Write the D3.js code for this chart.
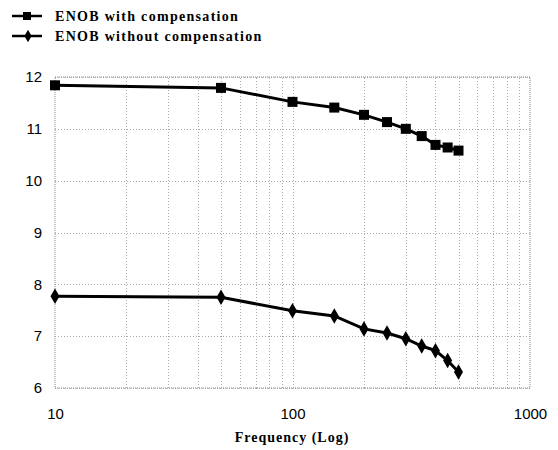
<!DOCTYPE html>
<html>
<head>
<meta charset="utf-8">
<script src="https://cdn.jsdelivr.net/npm/d3@7"></script>
<style>
  body { margin: 0; background: #fff; }
  svg { display: block; }
</style>
</head>
<body>
<script>
var width = 558,
    height = 450,
    margin = {top: 77, right: 28, bottom: 62, left: 55};

// frequencies (x), ENOB values for the two series
var freq = [10, 50, 100, 150, 200, 250, 300, 350, 400, 450, 500];
var enobWith = [11.84, 11.79, 11.52, 11.41, 11.27, 11.13, 11.0, 10.86, 10.69, 10.64, 10.58];
var enobWithout = [7.77, 7.75, 7.49, 7.39, 7.14, 7.06, 6.95, 6.81, 6.72, 6.53, 6.31];
var seriesNames = ["ENOB with compensation", "ENOB without compensation"];
var xTicks = [10, 100, 1000];
var yTicks = [6, 7, 8, 9, 10, 11, 12];

var svg = d3.select("body").append("svg")
    .attr("width", width)
    .attr("height", height);

var x = d3.scaleLog()
    .domain([10, 1000])
    .range([margin.left, width - margin.right]);

var y = d3.scaleLinear()
    .domain([6, 12])
    .range([height - margin.bottom, margin.top]);

// minor vertical grid lines: 20..90, 200..900
var minor = [];
[10, 100].forEach(function(d) {
    for (var k = 2; k <= 9; k++) minor.push(d * k);
});

var grid = svg.append("g")
    .attr("stroke", "#aaa")
    .attr("stroke-width", 1)
    .attr("stroke-dasharray", "1,2");

grid.selectAll(".vx")
    .data(minor.concat([100]))
    .enter().append("line")
    .attr("x1", function(d) { return Math.round(x(d)) + 0.5; })
    .attr("x2", function(d) { return Math.round(x(d)) + 0.5; })
    .attr("y1", y(6))
    .attr("y2", y(12));

grid.selectAll(".hy")
    .data(yTicks)
    .enter().append("line")
    .attr("x1", x(10))
    .attr("x2", x(1000))
    .attr("y1", function(d) { return Math.round(y(d)) + 0.5; })
    .attr("y2", function(d) { return Math.round(y(d)) + 0.5; });

// plot frame
svg.append("rect")
    .attr("x", x(10))
    .attr("y", y(12))
    .attr("width", x(1000) - x(10))
    .attr("height", y(6) - y(12))
    .attr("fill", "none")
    .attr("stroke", "#888")
    .attr("stroke-width", 1)
    .attr("stroke-dasharray", "1,1");

// axes (labels only)
var xAxis = svg.append("g")
    .attr("transform", "translate(0," + y(6) + ")")
    .call(d3.axisBottom(x).tickValues(xTicks).tickFormat(d3.format("d")).tickSize(0).tickPadding(20));

var yAxis = svg.append("g")
    .attr("transform", "translate(" + x(10) + ",0)")
    .call(d3.axisLeft(y).tickValues(yTicks).tickFormat(d3.format("d")).tickSize(0).tickPadding(13));

[xAxis, yAxis].forEach(function(a) {
    a.select(".domain").remove();
    a.selectAll("text")
        .attr("fill", "#000")
        .style("font-family", "'Liberation Sans', Arial, sans-serif")
        .style("font-size", "15px");
});

svg.append("text")
    .attr("x", 292)
    .attr("y", 442)
    .attr("text-anchor", "middle")
    .style("font-family", "'Liberation Serif', 'Times New Roman', serif")
    .style("font-weight", "bold")
    .style("font-size", "14px")
    .style("letter-spacing", "1px")
    .text("Frequency (Log)");

var line = d3.line()
    .x(function(d, i) { return x(freq[i]); })
    .y(function(d) { return y(d); });

var series = [enobWith, enobWithout];
var diamond = d3.symbol().type(d3.symbolDiamond).size(70);

series.forEach(function(vals, s) {
    svg.append("path")
        .datum(vals)
        .attr("fill", "none")
        .attr("stroke", "#000")
        .attr("stroke-width", 3)
        .attr("d", line);

    if (s === 0) {
        svg.selectAll(".sq")
            .data(vals)
            .enter().append("rect")
            .attr("x", function(d, i) { return x(freq[i]) - 5; })
            .attr("y", function(d) { return y(d) - 5; })
            .attr("width", 10)
            .attr("height", 10)
            .attr("fill", "#000");
    } else {
        svg.selectAll(".dm")
            .data(vals)
            .enter().append("path")
            .attr("transform", function(d, i) { return "translate(" + x(freq[i]) + "," + y(d) + ")"; })
            .attr("d", diamond)
            .attr("fill", "#000");
    }
});

// legend
var legend = svg.append("g");
seriesNames.forEach(function(name, i) {
    var ly = 16 + i * 20;
    legend.append("line")
        .attr("x1", 12).attr("x2", 42)
        .attr("y1", ly).attr("y2", ly)
        .attr("stroke", "#000")
        .attr("stroke-width", 2.5);
    if (i === 0) {
        legend.append("rect")
            .attr("x", 23).attr("y", ly - 4)
            .attr("width", 8).attr("height", 8)
            .attr("fill", "#000");
    } else {
        legend.append("path")
            .attr("transform", "translate(28," + ly + ")")
            .attr("d", d3.symbol().type(d3.symbolDiamond).size(45))
            .attr("fill", "#000");
    }
    legend.append("text")
        .attr("x", 55)
        .attr("y", ly + 5)
        .style("font-family", "'Liberation Serif', 'Times New Roman', serif")
        .style("font-weight", "bold")
        .style("font-size", "14px")
        .style("letter-spacing", "1.3px")
        .text(name);
});
</script>
</body>
</html>
